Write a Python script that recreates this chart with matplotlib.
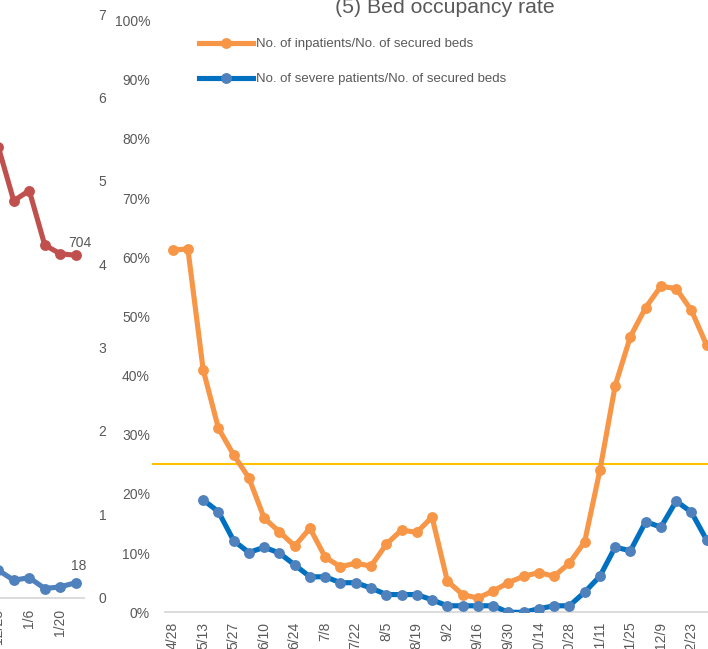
import matplotlib
matplotlib.use("Agg")
import matplotlib.pyplot as plt

plt.rcParams['font.family'] = ['Liberation Sans', 'DejaVu Sans']

GRAY = '#595959'
AXIS = '#D9D9D9'

# left panel (tail of the patient count chart)
left_dates = ['12/23', '12/30', '1/6', '1/13', '1/20', '1/27']
inpatients = [927, 816, 837, 725, 707, 704]
severe = [33, 21, 24, 11, 13, 18]
left_right_ticks = [0, 1, 2, 3, 4, 5, 6, 7]

# (5) bed occupancy rate, weekly
bed_dates = ['4/28', '5/6', '5/13', '5/20', '5/27', '6/3', '6/10', '6/17',
             '6/24', '7/1', '7/8', '7/15', '7/22', '7/29', '8/5', '8/12',
             '8/19', '8/26', '9/2', '9/9', '9/16', '9/23', '9/30', '10/7',
             '10/14', '10/21', '10/28', '11/4', '11/11', '11/18', '11/25',
             '12/2', '12/9', '12/16', '12/23', '12/30']
inpatient_rate = [61.2, 61.4, 41.0, 31.1, 26.6, 22.7, 15.9, 13.6, 11.2, 14.2,
                  9.3, 7.7, 8.3, 7.8, 11.5, 13.9, 13.5, 16.1, 5.3, 3.0,
                  2.4, 3.6, 5.0, 6.1, 6.7, 6.1, 8.3, 11.9, 24.0, 38.3,
                  46.6, 51.5, 55.1, 54.7, 51.0, 45.1]
severe_rate = [None, None, 19.0, 17.0, 12.1, 10.1, 11.0, 10.0, 8.0, 6.0,
               6.0, 5.0, 5.0, 4.1, 3.0, 3.0, 3.0, 2.1, 1.1, 1.1,
               1.1, 1.1, 0.0, 0.0, 0.6, 1.1, 1.1, 3.4, 6.1, 11.0,
               10.4, 15.3, 14.4, 18.8, 16.9, 12.2]
threshold = 25

W, H = 708, 649
fig = plt.figure(figsize=(W / 100, H / 100), dpi=100)


def rect(l, t, r, b):
    return [l / W, 1 - b / H, (r - l) / W, (b - t) / H]


# ---- left panel ----
step_l = 15.5
left_px, right_px = -400, 83.5
ax_l = fig.add_axes(rect(left_px, 14, right_px, 597.7))
n_l = len(left_dates)
ax_l.set_xlim(n_l - 0.5 - (right_px - left_px) / step_l, n_l - 0.5)
ax_l.set_ylim(0, 1200)
x_l = list(range(n_l))
ax_l.plot(x_l, inpatients, color='#C0504D', lw=3.7, marker='o', ms=6.8,
          solid_capstyle='round', clip_on=False, zorder=3)
ax_l.annotate(str(inpatients[-1]), (x_l[-1], inpatients[-1]),
              xytext=(3, 8.6), textcoords='offset points',
              ha='center', va='center', fontsize=10, color=GRAY)
for s in ['top', 'left', 'right']:
    ax_l.spines[s].set_visible(False)
ax_l.spines['bottom'].set_color(AXIS)
ax_l.spines['bottom'].set_linewidth(1.3)
ax_l.set_yticks([])
ax_l.set_xticks(x_l[::2])
ax_l.set_xticklabels(left_dates[::2], rotation=90, fontsize=10, color=GRAY)
ax_l.tick_params(axis='x', length=0, pad=8.3)

ax_lb = ax_l.twinx()
ax_lb.set_ylim(0, 700)
ax_lb.plot(x_l, severe, color='#4F81BD', lw=3.7, marker='o', ms=6.8,
           clip_on=False, zorder=3)
ax_lb.annotate(str(severe[-1]), (x_l[-1], severe[-1]),
               xytext=(2.3, 12.2), textcoords='offset points',
               ha='center', va='center', fontsize=10, color=GRAY)
ax_lb.set_yticks([])
ax_lb.axis('off')

ax_lr = ax_l.twinx()
ax_lr.set_ylim(0, 7)
ax_lr.set_yticks(left_right_ticks)
ax_lr.set_yticklabels([str(t) for t in left_right_ticks], fontsize=10, color=GRAY)
ax_lr.tick_params(axis='y', length=0, pad=10.8)
for s in ax_lr.spines.values():
    s.set_visible(False)

# ---- (5) bed occupancy rate ----
step_r = 15.26
n_slots = 40
r_left = 165
ax = fig.add_axes(rect(r_left, 20.5, r_left + n_slots * step_r, 612.3))
ax.set_xlim(-0.5, n_slots - 0.5)
ax.set_ylim(0, 100)
x_r = list(range(len(bed_dates)))

ax.plot([(153 - r_left) / (n_slots * step_r), 1], [threshold, threshold],
        transform=ax.get_yaxis_transform(), color='#FFC000', lw=1.5,
        clip_on=False, zorder=1)
ax.plot(x_r, inpatient_rate, color='#F79646', lw=3.7, marker='o', ms=6.8,
        label='No. of inpatients/No. of secured beds', zorder=3)
ax.plot(x_r, severe_rate, color='#0070C0', lw=3.7, marker='o', ms=6.8,
        mfc='#4F81BD', mec='#4F81BD',
        label='No. of severe patients/No. of secured beds', zorder=3)

for s in ['top', 'left', 'right']:
    ax.spines[s].set_visible(False)
ax.spines['bottom'].set_color(AXIS)
ax.spines['bottom'].set_linewidth(1.3)
ax.set_yticks(range(0, 101, 10))
ax.set_yticklabels([f'{v}%' for v in range(0, 101, 10)], fontsize=10, color=GRAY)
ax.tick_params(axis='y', length=0, pad=10.8)
ax.set_xticks(x_r[::2])
ax.set_xticklabels(bed_dates[::2], rotation=90, fontsize=10, color=GRAY)
ax.tick_params(axis='x', length=0, pad=6.8)

ax.legend(loc='upper left', bbox_to_anchor=(199 / W, 1 - 38 / H),
          bbox_transform=fig.transFigure, frameon=False, fontsize=9.5,
          handlelength=4.1, handletextpad=0.2, labelspacing=1.72,
          borderpad=0, borderaxespad=0, labelcolor=GRAY)

fig.text(445 / W, 1 - 13.3 / H, '(5) Bed occupancy rate', ha='center',
         va='baseline', fontsize=15.3, color=GRAY)

fig.savefig('out.png', dpi=100)
